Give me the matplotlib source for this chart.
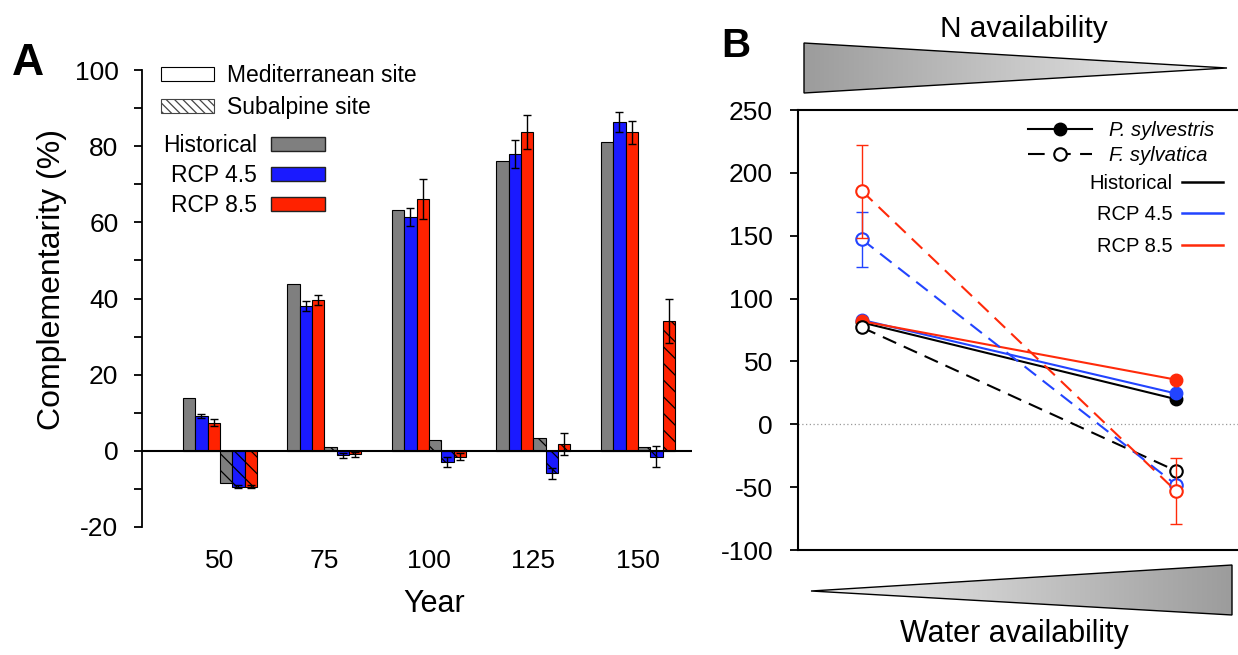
import numpy as np
import matplotlib
matplotlib.use('Agg')
import matplotlib.pyplot as plt
from matplotlib.patches import Polygon, Patch
from matplotlib.lines import Line2D
from matplotlib.colors import LinearSegmentedColormap
from matplotlib.ticker import MultipleLocator

plt.rcParams['font.family'] = 'Liberation Sans'
plt.rcParams['axes.unicode_minus'] = False
plt.rcParams['hatch.linewidth'] = 0.9

# ---- panel A: complementarity (%) per stand age
years = ['50', '75', '100', '125', '150']
med_hist = [14.0, 43.8, 63.3, 76.0, 81.2]
med_45 = [9.2, 38.0, 61.4, 77.9, 86.4]
med_85 = [7.4, 39.6, 66.2, 83.8, 83.6]
med_45_err = [0.6, 1.3, 2.4, 3.7, 2.7]
med_85_err = [1.0, 1.3, 5.3, 4.5, 3.0]
sub_hist = [-8.4, 0.9, 2.8, 3.5, 1.0]
sub_45 = [-9.4, -1.2, -2.9, -5.9, -1.5]
sub_85 = [-9.4, -0.9, -1.5, 1.8, 34.0]
sub_45_err = [0.3, 0.7, 1.4, 1.4, 2.7]
sub_85_err = [0.3, 0.6, 0.9, 2.8, 5.8]

# ---- panel B: two ends of the gradient (left = dry / N-rich, right = wet)
b_pos = [0, 1]
pinus_hist = [81, 20]
pinus_45 = [83, 24.5]
pinus_85 = [82, 35.5]
fagus_hist = [77, -37]
fagus_45 = [147, -48]
fagus_85 = [185.5, -53]
fagus_45_err = [22, 0]
fagus_85_err = [37, 26]

scen_labels = ['Historical', 'RCP 4.5', 'RCP 8.5']
colA = ['#7f7f7f', '#1a1aff', '#ff2200']
colB = ['#000000', '#2244ff', '#ff2a0a']

W, H = 1238, 655
fig = plt.figure(figsize=(W / 100, H / 100), dpi=100)
fx = lambda px: px / W
fy = lambda py: 1 - py / H

# decorations (gradient wedges) in pixel space
axd = fig.add_axes([0, 0, 1, 1], zorder=-1)
axd.axis('off')
grad = np.linspace(0, 1, 256).reshape(1, -1)
wedges = [([(804, 43), (804, 93), (1227, 68)], ['#9c9c9c', '#f2f2f2']),
          ([(811, 591), (1232, 565), (1232, 615)], ['#f2f2f2', '#9c9c9c'])]
for pts, cols in wedges:
    xs = [p[0] for p in pts]; ys = [p[1] for p in pts]
    cm = LinearSegmentedColormap.from_list('w', cols)
    im = axd.imshow(grad, cmap=cm, extent=(min(xs), max(xs), max(ys), min(ys)),
                    aspect='auto', interpolation='bilinear')
    poly = Polygon(pts, closed=True, facecolor='none', edgecolor='black', lw=1)
    axd.add_patch(poly)
    im.set_clip_path(poly)
axd.set_xlim(0, W); axd.set_ylim(H, 0)

# ================= panel A
axA = fig.add_axes([fx(142), fy(527), fx(692) - fx(142), fy(70) - fy(527)])
x = np.arange(len(years))
w = 0.118
ekw = dict(ecolor='black', elinewidth=1, capsize=3, capthick=1)
med = [(med_hist, None), (med_45, med_45_err), (med_85, med_85_err)]
sub = [(sub_hist, None), (sub_45, sub_45_err), (sub_85, sub_85_err)]
for k, (vals, err) in enumerate(med):
    axA.bar(x + (k - 2.5) * w, vals, w, color=colA[k], edgecolor='black', lw=0.8,
            yerr=err, error_kw=ekw, zorder=2)
for k, (vals, err) in enumerate(sub):
    axA.bar(x + (k + 0.5) * w, vals, w, color=colA[k], edgecolor='black', lw=0.8,
            hatch='\\\\', yerr=err, error_kw=ekw, zorder=2)
axA.axhline(0, color='black', lw=1.5, zorder=3)

axA.set_xlim(-0.746, 4.517)
axA.set_ylim(-20, 100)
axA.set_yticks(range(-20, 101, 20))
axA.yaxis.set_minor_locator(MultipleLocator(10))
axA.set_xticks(x, years)
for s in ['top', 'right', 'bottom']:
    axA.spines[s].set_visible(False)
axA.spines['left'].set_linewidth(1.3)
axA.tick_params(axis='y', which='both', direction='out', length=6, width=1.3,
                labelsize=19, pad=11)
axA.tick_params(axis='x', length=0, labelsize=19, pad=16)
axA.set_ylabel('Complementarity (%)', fontsize=23)
axA.yaxis.set_label_coords(-0.137, 0.5416)
axA.set_xlabel('Year', fontsize=22)
axA.xaxis.set_label_coords(0.531, -0.136)

site_h = [Patch(facecolor='white', edgecolor='black', lw=0.8),
          Patch(facecolor='white', edgecolor='#444444', hatch='\\\\\\\\', lw=0.8)]
legA1 = axA.legend(site_h, ['Mediterranean site', 'Subalpine site'], loc='upper left',
                   bbox_to_anchor=(fx(161), fy(64)), bbox_transform=fig.transFigure,
                   frameon=False, borderpad=0, borderaxespad=0, fontsize=16.5,
                   handlelength=2.31, handleheight=0.57, handletextpad=0.57,
                   labelspacing=0.4)
axA.add_artist(legA1)
scen_h = [Patch(facecolor=c, edgecolor='#222222', lw=1) for c in colA]
axA.legend(scen_h, scen_labels, loc='upper left', markerfirst=False,
           bbox_to_anchor=(fx(163), fy(134)), bbox_transform=fig.transFigure,
           frameon=False, borderpad=0, borderaxespad=0, fontsize=16.5,
           handlelength=2.36, handleheight=0.57, handletextpad=0.6, labelspacing=0.3)

# ================= panel B
axB = fig.add_axes([fx(798), fy(550), fx(1250) - fx(798), fy(110) - fy(550)])
axB.axhline(0, color='#999999', lw=0.9, ls=(0, (1, 2)), zorder=0)
for vals, c in zip([pinus_hist, pinus_45, pinus_85], colB):
    axB.plot(b_pos, vals, '-', color=c, lw=1.5, marker='o', ms=9, mfc=c, mec=c)
for vals, err, c in zip([fagus_hist, fagus_45, fagus_85], [None, fagus_45_err, fagus_85_err], colB):
    if err is not None:
        axB.errorbar(b_pos, vals, yerr=err, fmt='none', ecolor=c, elinewidth=1,
                     capsize=4, capthick=1)
    axB.plot(b_pos, vals, color=c, lw=1.5, ls=(0, (7, 4)), marker='o', ms=9,
             mfc='white', mec=c, mew=1.5)

axB.set_xlim(-0.204, 1.236)
axB.set_ylim(-100, 250)
axB.set_yticks(range(-100, 251, 50))
axB.set_xticks([])
axB.spines['right'].set_visible(False)
for s in ['left', 'top', 'bottom']:
    axB.spines[s].set_linewidth(1.5)
axB.tick_params(axis='y', direction='out', length=6, width=1.3, labelsize=19, pad=12)

sp_h = [Line2D([], [], color='black', lw=1.5, marker='o', ms=9),
        Line2D([], [], color='black', lw=1.5, ls=(0, (8, 4.5)), marker='o', ms=9,
               mfc='white', mew=1.5)]
legB1 = axB.legend(sp_h, ['P. sylvestris', 'F. sylvatica'], loc='upper left',
                   bbox_to_anchor=(fx(1028), fy(121)), bbox_transform=fig.transFigure,
                   frameon=False, borderpad=0, borderaxespad=0,
                   prop={'style': 'italic', 'size': 14.5},
                   handlelength=3.2, handletextpad=0.8, labelspacing=0.3)
axB.add_artist(legB1)
sc_h = [Line2D([], [], color=c, lw=1.8) for c in colB]
axB.legend(sc_h, scen_labels, loc='upper right', markerfirst=False,
           bbox_to_anchor=(fx(1223), fy(174)), bbox_transform=fig.transFigure,
           frameon=False, borderpad=0, borderaxespad=0, fontsize=14.5,
           handlelength=2.05, handletextpad=0.45, labelspacing=0.62)

fig.text(fx(1024), fy(37), 'N availability', ha='center', va='baseline', fontsize=21.5)
fig.text(fx(1014), fy(642), 'Water availability', ha='center', va='baseline', fontsize=22)
fig.text(fx(12), fy(75), 'A', ha='left', va='baseline', fontsize=32, fontweight='bold')
fig.text(fx(721), fy(57), 'B', ha='left', va='baseline', fontsize=29, fontweight='bold')

fig.savefig('out.png', dpi=100)
